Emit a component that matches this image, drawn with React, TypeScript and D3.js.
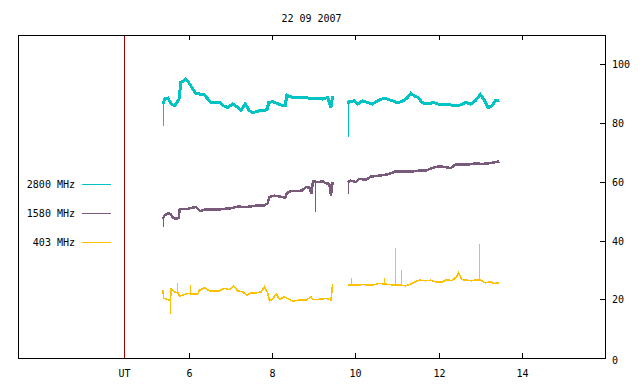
import React from "react";
import * as d3 from "d3";

const TITLE = "22 09 2007";
const X_TICKS = [6, 8, 10, 12, 14];
const Y_TICKS = [0, 20, 40, 60, 80, 100];
const UT_HOUR = 4.44;

const SERIES_NAMES = ["2800 MHz", "1580 MHz", "403 MHz"];
const SERIES_COLORS = ["#00c4c4", "#7a5a7a", "#ffc000"];

const s2800a: [number, number][] = [[5.37,86.5],[5.41,88.2],[5.49,88.5],[5.57,86.5],[5.65,85.9],[5.73,87.6],[5.77,88.5],[5.79,93.8],[5.85,94.2],[5.91,95.0],[5.99,93.8],[6.07,92.1],[6.15,90.2],[6.25,89.9],[6.35,89.9],[6.45,88.2],[6.53,87.0],[6.65,87.0],[6.75,87.0],[6.82,85.9],[6.93,85.3],[7.05,86.5],[7.17,85.3],[7.25,84.4],[7.35,86.5],[7.45,84.2],[7.53,83.6],[7.69,84.2],[7.81,84.2],[7.88,84.8],[7.91,87.0],[8.01,87.3],[8.13,86.6],[8.25,85.9],[8.31,85.9],[8.35,89.5],[8.45,88.9],[8.57,88.7],[8.73,88.7],[8.89,88.5],[9.05,88.5],[9.21,88.2],[9.33,88.7],[9.41,85.3],[9.45,89.3]];
const s2800b: [number, number][] = [[9.81,86.5],[9.85,87.3],[9.97,87.6],[10.05,86.5],[10.17,87.6],[10.29,87.0],[10.41,86.5],[10.53,87.6],[10.69,88.5],[10.85,87.8],[11.00,87.0],[11.12,87.3],[11.24,88.5],[11.33,90.1],[11.41,89.3],[11.51,88.7],[11.60,87.0],[11.72,86.5],[11.88,87.0],[12.05,86.2],[12.20,86.5],[12.36,85.9],[12.53,86.2],[12.65,87.0],[12.77,86.5],[12.88,87.6],[13.00,89.7],[13.08,88.2],[13.19,85.3],[13.28,85.9],[13.36,87.6],[13.46,87.8]];
const s1580a: [number, number][] = [[5.37,47.4],[5.41,48.6],[5.49,49.3],[5.55,49.1],[5.61,47.8],[5.69,47.4],[5.75,47.8],[5.77,50.5],[5.85,50.8],[5.97,50.8],[6.09,51.2],[6.17,51.4],[6.27,50.0],[6.37,50.5],[6.53,50.6],[6.69,50.5],[6.85,50.8],[7.01,51.0],[7.17,51.6],[7.33,51.4],[7.49,51.6],[7.65,52.0],[7.81,52.0],[7.89,52.7],[7.93,54.8],[8.05,55.3],[8.21,54.9],[8.31,54.5],[8.35,56.2],[8.45,56.8],[8.57,56.8],[8.71,57.0],[8.81,58.2],[8.89,58.0],[8.94,55.9],[8.98,60.2],[9.09,59.9],[9.21,60.2],[9.29,59.5],[9.37,59.3],[9.41,55.3],[9.45,59.9]];
const s1580b: [number, number][] = [[9.81,59.9],[9.89,60.4],[10.01,59.9],[10.09,61.0],[10.25,60.7],[10.37,61.8],[10.57,62.1],[10.77,62.5],[10.85,62.9],[10.97,63.6],[11.17,63.5],[11.36,63.5],[11.53,63.8],[11.69,63.8],[11.84,64.7],[12.00,65.3],[12.17,65.0],[12.29,64.7],[12.41,65.9],[12.56,65.9],[12.72,65.9],[12.88,66.3],[13.04,66.1],[13.20,66.3],[13.36,66.7],[13.46,67.0]];
const s403a: [number, number][] = [[5.37,23.3],[5.39,20.3],[5.49,19.9],[5.55,19.7],[5.57,23.7],[5.65,22.5],[5.73,22.2],[5.77,21.1],[5.85,21.4],[5.97,22.0],[6.09,21.7],[6.21,21.8],[6.25,23.1],[6.37,23.9],[6.49,22.9],[6.61,22.9],[6.73,22.9],[6.85,23.7],[6.97,23.3],[7.07,24.5],[7.17,22.9],[7.29,22.5],[7.38,21.4],[7.49,22.2],[7.61,22.2],[7.73,22.5],[7.81,24.2],[7.89,22.2],[7.93,19.5],[7.99,19.9],[8.10,21.8],[8.17,20.0],[8.29,20.8],[8.41,19.9],[8.50,19.4],[8.65,19.7],[8.81,19.7],[8.93,20.8],[8.97,19.9],[9.13,20.0],[9.29,20.3],[9.41,19.7],[9.45,25.1]];
const s403b: [number, number][] = [[9.81,25.0],[9.89,24.8],[10.01,24.8],[10.17,25.0],[10.41,24.8],[10.57,25.4],[10.81,25.0],[11.05,24.8],[11.21,24.6],[11.33,25.2],[11.43,25.9],[11.53,26.5],[11.69,26.3],[11.81,26.5],[11.93,25.9],[12.08,25.9],[12.20,26.7],[12.32,26.3],[12.44,27.8],[12.48,29.0],[12.56,26.7],[12.68,26.5],[12.80,26.3],[12.92,26.7],[13.00,26.5],[13.12,25.6],[13.25,25.9],[13.32,25.4],[13.46,25.6]];

// spikes: [time, base, tip]
const spikes2800: [number, number, number][] = [[5.37,86.5,79.1],[9.81,86.5,75.1]];
const spikes1580: [number, number, number][] = [[5.37,47.4,44.6],[9.03,60.0,49.7],[9.81,59.9,55.9]];
const spikes403: [number, number, number][] = [[5.53,19.8,14.9],[5.71,22.3,25.6],[6.03,21.8,24.8],[9.89,24.8,27.1],[10.69,25.2,27.1],[10.95,24.9,37.6],[11.10,24.7,29.9],[12.97,26.6,38.7]];

const SEGMENTS = [[s2800a, s2800b], [s1580a, s1580b], [s403a, s403b]];
const SPIKES = [spikes2800, spikes1580, spikes403];
const WIDTHS = [3, 2.5, 1.6];

const W = 640, H = 384;
const L = 18, R = 605, T = 35, B = 358;
const FONT = "'DejaVu Sans Mono', monospace";

export default function App() {
  const x = d3.scaleLinear().domain([1.885, 16]).range([L, R]);
  const y = d3.scaleLinear().domain([0, 110]).range([B, T]);
  const line = d3.line<[number, number]>().x(d => x(d[0])).y(d => y(d[1]));
  const legendY = [184, 213, 242];
  return (
    <svg width={W} height={H} style={{ position: "absolute", left: 0, top: 0, background: "#fff" }}>
      <rect x={0} y={0} width={W} height={H} fill="#fff" />
      <text x={(L + R) / 2} y={18} textAnchor="middle" dominantBaseline="central" fontFamily={FONT} fontSize={10}>{TITLE}</text>
      {SEGMENTS.map((segs, i) => (
        <g key={i} clipPath="url(#clip)">
          {segs.map((s, j) => (
            <path key={j} d={line(s) || ""} fill="none" stroke={SERIES_COLORS[i]} strokeWidth={WIDTHS[i]} strokeLinejoin="miter" shapeRendering="crispEdges" />
          ))}
          {SPIKES[i].map((s, j) => (
            <line key={j} x1={Math.round(x(s[0])) + 0.5} x2={Math.round(x(s[0])) + 0.5} y1={y(s[1])} y2={y(s[2])} stroke={SERIES_COLORS[i]} strokeWidth={1} shapeRendering="crispEdges" />
          ))}
        </g>
      ))}
      <line x1={Math.round(x(UT_HOUR)) + 0.5} x2={Math.round(x(UT_HOUR)) + 0.5} y1={T} y2={B} stroke="#a00000" strokeWidth={1} shapeRendering="crispEdges" />
      <rect x={L + 0.5} y={T + 0.5} width={R - L} height={B - T} fill="none" stroke="#000" strokeWidth={1} shapeRendering="crispEdges" />
      {X_TICKS.map(t => {
        const px = Math.round(x(t)) + 0.5;
        return (
          <g key={t}>
            <line x1={px} x2={px} y1={B} y2={B - 5} stroke="#000" shapeRendering="crispEdges" />
            <line x1={px} x2={px} y1={T} y2={T + 5} stroke="#000" shapeRendering="crispEdges" />
            <text x={px} y={373} textAnchor="middle" dominantBaseline="central" fontFamily={FONT} fontSize={10}>{t}</text>
          </g>
        );
      })}
      <text x={Math.round(x(UT_HOUR)) + 0.5} y={373} textAnchor="middle" dominantBaseline="central" fontFamily={FONT} fontSize={10}>UT</text>
      {Y_TICKS.map(v => {
        const py = Math.round(y(v)) + 0.5;
        return (
          <g key={v}>
            {v > 0 && <line x1={R} x2={R - 5} y1={py} y2={py} stroke="#000" shapeRendering="crispEdges" />}
            <text x={612} y={v === 0 ? py + 2 : py} dominantBaseline="central" fontFamily={FONT} fontSize={10}>{v}</text>
          </g>
        );
      })}
      {SERIES_NAMES.map((n, i) => (
        <g key={n}>
          <text x={75} y={legendY[i]} textAnchor="end" dominantBaseline="central" fontFamily={FONT} fontSize={10}>{n}</text>
          <line x1={82} x2={111} y1={legendY[i] + 0.5} y2={legendY[i] + 0.5} stroke={SERIES_COLORS[i]} strokeWidth={1} shapeRendering="crispEdges" />
        </g>
      ))}
      <defs>
        <clipPath id="clip"><rect x={L} y={T} width={R - L} height={B - T} /></clipPath>
      </defs>
    </svg>
  );
}
